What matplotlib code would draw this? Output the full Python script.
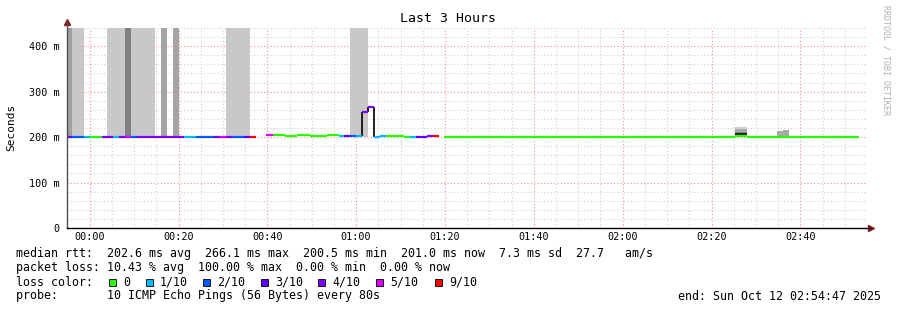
import matplotlib
matplotlib.use('Agg')
import matplotlib.pyplot as plt
from matplotlib.patches import Rectangle

plt.rcParams['font.family'] = ['DejaVu Sans Mono']

# loss colours (index = loss step)
loss_colors = ['#26ff00', '#00b8ff', '#0059ff', '#5e00ff', '#7e00ff', '#dd00ff', '#ff0000']
loss_labels = ['0', '1/10', '2/10', '3/10', '4/10', '5/10', '9/10']

# median segments: minutes since 00:00, median rtt (ms), loss index
seg_start = [-5.22, -4.06, -1.35, 0.00, 2.70, 5.18, 6.54, 7.89, 9.24, 10.59, 21.18, 23.89, 27.94, 29.30,
             30.65, 32.00, 34.70, 36.06,
             39.66, 41.24, 43.94, 46.65, 49.58, 53.41, 56.11, 57.24, 58.59, 59.94, 61.30, 62.65, 64.00,
             65.35, 66.70, 70.76, 72.11, 73.46, 75.94, 77.30,
             79.77, 145.35, 148.06]
seg_end = [-4.06, -1.35, 0.00, 2.70, 5.18, 6.54, 7.89, 9.24, 10.59, 21.18, 23.89, 27.94, 29.30, 30.65,
           32.00, 34.70, 36.06, 37.41,
           41.24, 43.94, 46.65, 49.58, 53.41, 56.11, 57.24, 58.59, 59.94, 61.30, 62.65, 64.00, 65.35,
           66.70, 70.76, 72.11, 73.46, 75.94, 77.30, 78.65,
           145.35, 148.06, 173.30]
seg_median = [200, 200, 200, 200, 200, 200, 200, 200, 200, 200, 200, 200, 200, 200,
              200, 200, 200, 200,
              204, 205, 202, 205, 202, 205, 203, 203, 203, 203, 255, 266, 201,
              202, 203, 201, 201, 201, 202, 202,
              200.5, 203, 200.5]
seg_loss = [3, 2, 1, 0, 4, 1, 4, 5, 2, 4, 1, 2, 4, 5,
            4, 2, 3, 6,
            5, 0, 0, 0, 0, 0, 1, 3, 2, 1, 4, 4, 1,
            1, 0, 0, 1, 3, 4, 6,
            0, 0, 0]

# smoke (ping spread) bands
smoke_start = [-5.22, -4.06, 3.83, 7.89, 9.24, 16.00, 18.70, 30.65, 58.59,
               145.35, 145.35, 145.35, 154.82, 156.17]
smoke_end = [-4.06, -1.35, 7.89, 9.24, 14.65, 17.35, 20.06, 36.06, 62.65,
             148.06, 148.06, 148.06, 156.17, 157.52]
smoke_top = [440, 440, 440, 440, 440, 440, 440, 440, 440,
             222, 218, 212, 214, 216]
smoke_shade = ['#a0a0a0', '#c8c8c8', '#c8c8c8', '#808080', '#c8c8c8', '#a4a4a4', '#a4a4a4', '#c8c8c8', '#c8c8c8',
               '#d0d0d0', '#a8a8a8', '#888888', '#a8a8a8', '#a8a8a8']

xtick_pos = [0, 20, 40, 60, 80, 100, 120, 140, 160]
xtick_lab = ['00:00', '00:20', '00:40', '01:00', '01:20', '01:40', '02:00', '02:20', '02:40']
ytick_pos = [0, 100, 200, 300, 400]
ytick_lab = ['0', '100 m', '200 m', '300 m', '400 m']

W, H = 897, 310
fig = plt.figure(figsize=(W / 100, H / 100), dpi=100)
ax = fig.add_axes([66.5 / W, (H - 228) / H, (866 - 66.5) / W, 200 / H])
ax.set_xlim(-5.22, 174.78)
ax.set_ylim(0, 440)

# grid
ax.set_xticks(xtick_pos)
ax.set_xticks(range(-5, 175, 5), minor=True)
ax.set_yticks(ytick_pos)
ax.set_yticks(range(0, 441, 20), minor=True)
ax.grid(which='minor', color='#d0d0d0', linestyle=(0, (1, 2)), linewidth=0.8)
ax.grid(which='major', color='#ff8c8c', linestyle=(0, (1, 2)), linewidth=0.8)
ax.set_axisbelow(True)
ax.set_xticklabels(xtick_lab, fontsize=7.3)
ax.set_yticklabels(ytick_lab, fontsize=7.3)
ax.tick_params(which='both', length=0)
ax.tick_params(axis='x', pad=3)
ax.tick_params(axis='y', pad=5)
for s in ax.spines.values():
    s.set_visible(False)

# smoke
for s0, s1, top, c in zip(smoke_start, smoke_end, smoke_top, smoke_shade):
    ax.bar(s0, top - 200, width=s1 - s0, bottom=200, align='edge', color=c, linewidth=0, zorder=2)

# black median outline for jumps
for i in range(1, len(seg_start)):
    if abs(seg_start[i] - seg_end[i - 1]) < 0.01 and abs(seg_median[i] - seg_median[i - 1]) > 4:
        ax.vlines(seg_start[i], min(seg_median[i], seg_median[i - 1]), max(seg_median[i], seg_median[i - 1]),
                  colors='#101010', linewidth=1.3, zorder=3)
ax.hlines(206, 145.35, 148.06, colors='#101010', linewidth=1.2, zorder=3)

# loss-coloured median
ax.hlines(seg_median, seg_start, seg_end, colors=[loss_colors[l] for l in seg_loss],
          linewidth=1.6, zorder=4, capstyle='butt')

# axes lines with arrows
ax.plot([0, 0], [0, 1.03], transform=ax.transAxes, color='#505050', lw=1, clip_on=False, zorder=5)
ax.plot([0, 1.006], [0, 0], transform=ax.transAxes, color='black', lw=1, clip_on=False, zorder=5)
ax.plot([0], [1.03], marker='^', markersize=4, color='#8b1a1a', transform=ax.transAxes, clip_on=False)
ax.plot([1.006], [0], marker='>', markersize=4, color='#8b1a1a', transform=ax.transAxes, clip_on=False)


def fx(px):
    return px / W


def fy(py):
    return 1 - py / H


fig.text(fx(448), fy(19), 'Last 3 Hours', ha='center', va='center', fontsize=9.5)
fig.text(fx(11), fy(127), 'Seconds', ha='center', va='center', rotation=90, fontsize=8)
fig.text(fx(886), fy(5), 'RRDTOOL / TOBI OETIKER', ha='center', va='top', rotation=-90,
         fontsize=6, color='#b0b0b0')

fs = 8.4
fig.text(fx(16), fy(254), 'median rtt:  202.6 ms avg  266.1 ms max  200.5 ms min  201.0 ms now  7.3 ms sd  27.7   am/s',
         va='center', fontsize=fs)
fig.text(fx(16), fy(268), 'packet loss: 10.43 % avg  100.00 % max  0.00 % min  0.00 % now',
         va='center', fontsize=fs)
fig.text(fx(16), fy(282), 'loss color:', va='center', fontsize=fs)
sq_x = [109, 146, 203, 261, 318, 376, 435]
for px, c, lab in zip(sq_x, loss_colors, loss_labels):
    fig.patches.append(Rectangle((fx(px), fy(286)), 7 / W, 7 / H, transform=fig.transFigure,
                                 facecolor=c, edgecolor='black', linewidth=0.6))
    fig.text(fx(px + 14), fy(282), lab, va='center', fontsize=fs)
fig.text(fx(16), fy(296), 'probe:       10 ICMP Echo Pings (56 Bytes) every 80s', va='center', fontsize=fs)
fig.text(fx(881), fy(296), 'end: Sun Oct 12 02:54:47 2025', ha='right', va='center', fontsize=fs)

fig.savefig('out.png', dpi=100)
